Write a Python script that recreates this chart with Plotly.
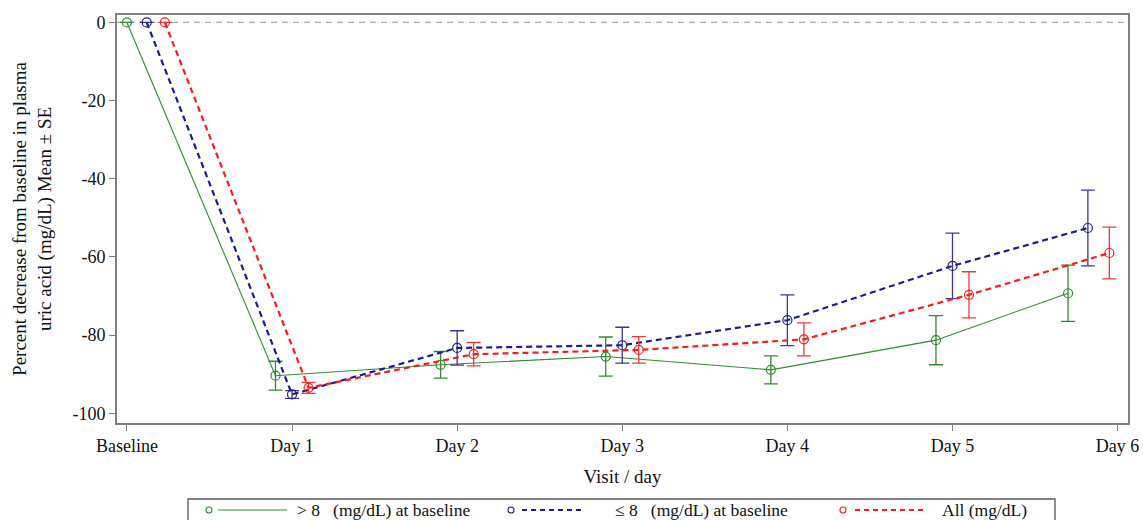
import plotly.graph_objects as go

# ---- data ----
visit_labels = ["Baseline", "Day 1", "Day 2", "Day 3", "Day 4", "Day 5", "Day 6"]
visit_ticks = [0, 1, 2, 3, 4, 5, 6]

# plotted x positions (visit index with the small horizontal jitter of the original)
x_gt8 = [0.00, 0.90, 1.90, 2.90, 3.90, 4.90, 5.70]
x_le8 = [0.12, 1.00, 2.00, 3.00, 4.00, 5.00, 5.82]
x_all = [0.23, 1.10, 2.10, 3.10, 4.10, 5.10, 5.95]

mean_gt8 = [0, -90.4, -87.6, -85.5, -88.9, -81.3, -69.3]
se_gt8 = [None, 3.7, 3.4, 5.0, 3.6, 6.3, 7.2]

mean_le8 = [0, -95.2, -83.3, -82.6, -76.2, -62.3, -52.6]
se_le8 = [None, 1.0, 4.4, 4.6, 6.5, 8.4, 9.7]

mean_all = [0, -93.5, -84.9, -83.8, -81.1, -69.7, -59.0]
se_all = [None, 1.4, 3.0, 3.4, 4.2, 5.9, 6.6]

names = ["> 8&nbsp;&nbsp; (mg/dL) at baseline", "≤ 8&nbsp;&nbsp; (mg/dL) at baseline", "All (mg/dL)"]

GREEN = "#2e8b2e"
BLUE = "#1c1c8f"
RED = "#f01e1e"
FONT = "Liberation Serif"

fig = go.Figure()

series = [
    (x_gt8, mean_gt8, se_gt8, names[0], GREEN, GREEN, "solid", 1.1),
    (x_le8, mean_le8, se_le8, names[1], BLUE, "#3d3590", "dash", 2.2),
    (x_all, mean_all, se_all, names[2], RED, "#f03a3a", "dash", 2.2),
]
for xs, ys, se, nm, col, ecol, dash, lw in series:
    fig.add_trace(go.Scatter(
        x=xs, y=ys, name=nm.replace("&nbsp;", " "), mode="lines+markers",
        line=dict(color=col, width=lw, dash=("6px,4px" if dash == "dash" else "solid")),
        marker=dict(symbol="circle-open", size=9, color=col, line=dict(width=1.2, color=col)),
        error_y=dict(type="data", array=se, visible=True, color=ecol, thickness=1.3, width=7),
        showlegend=False,
    ))

# reference line at 0
fig.add_shape(type="line", xref="paper", yref="y", x0=0, x1=1, y0=0, y1=0,
              line=dict(color="#aaaaaa", width=1.2, dash="6px,5px"), layer="below")

# ---- custom legend (paper coords) ----
W, H = 1143, 520
ml, mr, mt, mb = 117, 15, 15, 97
pw, ph = W - ml - mr, H - mt - mb


def px_x(px):
    return (px - ml) / pw


def px_y(py):
    return (H - mb - py) / ph


fig.add_shape(type="rect", xref="paper", yref="paper",
              x0=px_x(188), x1=px_x(1055), y0=px_y(499), y1=px_y(530),
              line=dict(color="#555555", width=1.3), fillcolor="rgba(0,0,0,0)")

legend_items = [
    (209, 218, 287, 295, GREEN, "solid", 1.1),
    (511, 522, 584, 613, BLUE, "dash", 2.2),
    (843, 855, 924, 940, RED, "dash", 2.2),
]
ly = 510
for (cx, l0, l1, tx, col, dash, lw), nm in zip(legend_items, names):
    fig.add_shape(type="circle", xref="paper", yref="paper",
                  x0=px_x(cx - 3), x1=px_x(cx + 3), y0=px_y(ly + 3), y1=px_y(ly - 3),
                  line=dict(color=col, width=1.1))
    fig.add_shape(type="line", xref="paper", yref="paper",
                  x0=px_x(l0), x1=px_x(l1), y0=px_y(ly), y1=px_y(ly),
                  line=dict(color=col, width=lw, dash=("5px,4px" if dash == "dash" else "solid")))
    fig.add_annotation(xref="paper", yref="paper", x=px_x(tx), y=px_y(ly),
                       text=nm, showarrow=False, xanchor="left", yanchor="middle",
                       font=dict(family=FONT, size=17.5, color="#111111"))

axis_common = dict(showline=True, linecolor="#808080", linewidth=1.6, mirror=True,
                   ticks="outside", ticklen=6, tickcolor="#808080", tickwidth=1.3,
                   showgrid=False, zeroline=False, automargin=False,
                   tickfont=dict(family=FONT, size=18, color="#111111"))

fig.update_layout(
    width=W, height=H,
    margin=dict(l=ml, r=mr, t=mt, b=mb),
    paper_bgcolor="white", plot_bgcolor="white",
    font=dict(family=FONT, color="#111111"),
    xaxis=dict(range=[-0.06, 6.063], tickvals=visit_ticks, ticktext=visit_labels,
               title=dict(text="Visit / day", font=dict(family=FONT, size=19), standoff=14),
               **axis_common),
    yaxis=dict(range=[-102.5, 1.9], tickvals=[0, -20, -40, -60, -80, -100],
               ticktext=["0", "-20", "-40", "-60", "-80", "-100"],
               title=dict(text="Percent decrease from baseline in plasma<br>uric acid (mg/dL) Mean ± SE",
                          font=dict(family=FONT, size=19), standoff=16),
               **axis_common),
)

fig.write_html(
    "out.html",
    config={"displayModeBar": False},
    post_script="document.body.style.margin='0';document.body.style.overflow='hidden';",
)
